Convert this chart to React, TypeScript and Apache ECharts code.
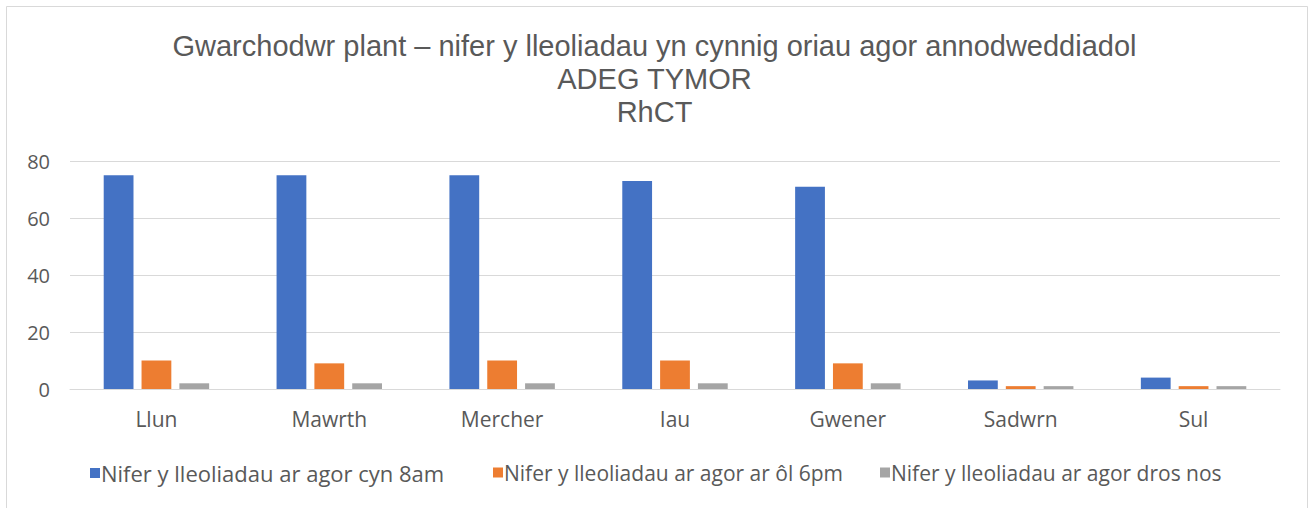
import React, { useEffect, useRef } from "react";
import * as echarts from "echarts";

const categories = ["Llun", "Mawrth", "Mercher", "Iau", "Gwener", "Sadwrn", "Sul"];
const seriesNames = [
  "Nifer y lleoliadau ar agor cyn 8am",
  "Nifer y lleoliadau ar agor ar ôl 6pm",
  "Nifer y lleoliadau ar agor dros nos",
];
const before8am = [75, 75, 75, 73, 71, 3, 4];
const after6pm = [10, 9, 10, 10, 9, 1, 1];
const overnight = [2, 2, 2, 2, 2, 1, 1];
const colors = ["#4472c4", "#ed7d31", "#a5a5a5"];
const titleText = "Gwarchodwr plant – nifer y lleoliadau yn cynnig oriau agor annodweddiadol\nADEG TYMOR\nRhCT";
const legendLefts = [90, 493, 880];

export default function App() {
  const ref = useRef<HTMLDivElement>(null);
  useEffect(() => {
    if (!ref.current) return;
    const chart = echarts.init(ref.current, null, { renderer: "svg" });
    const font = "'Open Sans', 'Noto Sans', sans-serif";
    const data = [before8am, after6pm, overnight];
    chart.setOption({
      animation: false,
      backgroundColor: "#ffffff",
      graphic: [
        {
          type: "rect",
          shape: { x: 6.5, y: 6.5, width: 1301, height: 520 },
          style: { fill: "none", stroke: "#d9d9d9", lineWidth: 1 },
          silent: true,
        },
      ],
      title: {
        text: titleText,
        left: "center",
        top: 24,
        textStyle: {
          fontFamily: "'Liberation Sans', Arial, sans-serif",
          fontSize: 29,
          fontWeight: "normal",
          color: "#595959",
          lineHeight: 33,
        },
      },
      legend: seriesNames.map((name, i) => ({
        top: 462,
        left: legendLefts[i],
        padding: 0,
        itemWidth: 10,
        itemHeight: 10,
        icon: "rect",
        textStyle: {
          fontFamily: font,
          fontSize: i === 0 ? 22 : 21,
          color: "#595959",
          padding: [0, 0, 0, -4],
        },
        data: [name],
      })),
      grid: { left: 70, right: 29, top: 161, bottom: 119, containLabel: false },
      xAxis: {
        type: "category",
        data: categories,
        axisLine: { lineStyle: { color: "#d9d9d9", width: 1 } },
        axisTick: { show: false },
        axisLabel: { fontFamily: font, fontSize: 21, color: "#595959", margin: 19 },
      },
      yAxis: {
        type: "value",
        min: 0,
        max: 80,
        interval: 20,
        axisLine: { show: false },
        axisTick: { show: false },
        splitLine: { lineStyle: { color: "#d9d9d9", width: 1 } },
        axisLabel: { fontFamily: font, fontSize: 20, color: "#595959", margin: 20 },
      },
      series: seriesNames.map((name, i) => ({
        name,
        type: "bar",
        data: data[i],
        barGap: "27%",
        barCategoryGap: "39%",
        itemStyle: { color: colors[i] },
      })),
    });
    return () => chart.dispose();
  }, []);
  return (
    <div
      ref={ref}
      style={{ position: "fixed", left: 0, top: 0, width: 1309, height: 508 }}
    />
  );
}
